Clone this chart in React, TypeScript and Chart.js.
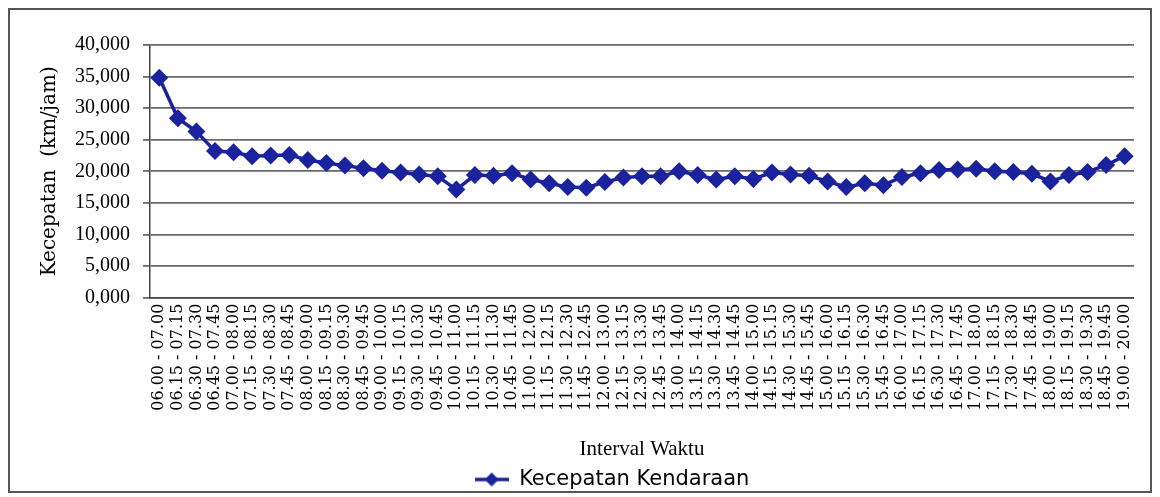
import React, { useEffect, useRef } from 'react';
import { Chart, registerables } from 'chart.js';

Chart.register(...registerables);

const intervalLabels: string[] = [
  '06.00 - 07.00', '06.15 - 07.15', '06.30 - 07.30', '06.45 - 07.45',
  '07.00 - 08.00', '07.15 - 08.15', '07.30 - 08.30', '07.45 - 08.45',
  '08.00 - 09.00', '08.15 - 09.15', '08.30 - 09.30', '08.45 - 09.45',
  '09.00 - 10.00', '09.15 - 10.15', '09.30 - 10.30', '09.45 - 10.45',
  '10.00 - 11.00', '10.15 - 11.15', '10.30 - 11.30', '10.45 - 11.45',
  '11.00 - 12.00', '11.15 - 12.15', '11.30 - 12.30', '11.45 - 12.45',
  '12.00 - 13.00', '12.15 - 13.15', '12.30 - 13.30', '12.45 - 13.45',
  '13.00 - 14.00', '13.15 - 14.15', '13.30 - 14.30', '13.45 - 14.45',
  '14.00 - 15.00', '14.15 - 15.15', '14.30 - 15.30', '14.45 - 15.45',
  '15.00 - 16.00', '15.15 - 16.15', '15.30 - 16.30', '15.45 - 16.45',
  '16.00 - 17.00', '16.15 - 17.15', '16.30 - 17.30', '16.45 - 17.45',
  '17.00 - 18.00', '17.15 - 18.15', '17.30 - 18.30', '17.45 - 18.45',
  '18.00 - 19.00', '18.15 - 19.15', '18.30 - 19.30', '18.45 - 19.45',
  '19.00 - 20.00',
];

// Kecepatan (km/jam)
const speeds: number[] = [
  34.8, 28.4, 26.3, 23.2, 23.0, 22.4, 22.5, 22.6, 21.8, 21.3,
  20.9, 20.5, 20.1, 19.8, 19.5, 19.2, 17.1, 19.4, 19.3, 19.7,
  18.7, 18.1, 17.5, 17.4, 18.3, 19.0, 19.2, 19.2, 20.0, 19.4,
  18.7, 19.2, 18.8, 19.8, 19.5, 19.3, 18.4, 17.5, 18.1, 17.8,
  19.1, 19.7, 20.2, 20.3, 20.4, 20.0, 19.9, 19.6, 18.4, 19.4,
  19.9, 21.0, 22.4,
];

const yMin = 0;
const yMax = 40;
const yStep = 5;

const seriesName = 'Kecepatan Kendaraan';
const xTitle = 'Interval Waktu';
const yTitle = 'Kecepatan  (km/jam)';

const lineColor = '#1a229e';

function makeLegendIcon(): HTMLCanvasElement {
  const c = document.createElement('canvas');
  c.width = 34;
  c.height = 16;
  const ctx = c.getContext('2d')!;
  ctx.strokeStyle = lineColor;
  ctx.lineWidth = 3.5;
  ctx.beginPath();
  ctx.moveTo(0, 8);
  ctx.lineTo(34, 8);
  ctx.stroke();
  ctx.fillStyle = lineColor;
  ctx.beginPath();
  ctx.moveTo(17, 1);
  ctx.lineTo(24, 8);
  ctx.lineTo(17, 15);
  ctx.lineTo(10, 8);
  ctx.closePath();
  ctx.fill();
  return c;
}

// nudges the bottom legend to where it sits in the original figure
const legendShift = {
  id: 'legendShift',
  afterLayout(chart: any) {
    const lg = chart.legend;
    if (lg) {
      lg.left -= 30;
      lg.right -= 30;
      lg.top += 9;
      lg.bottom += 9;
    }
  },
};

export default function App() {
  const canvasRef = useRef<HTMLCanvasElement | null>(null);

  useEffect(() => {
    if (!canvasRef.current) return;
    const icon = makeLegendIcon();
    const chart = new Chart(canvasRef.current, {
      type: 'line',
      data: {
        labels: intervalLabels,
        datasets: [
          {
            label: seriesName,
            data: speeds,
            borderColor: lineColor,
            backgroundColor: lineColor,
            borderWidth: 3.5,
            pointStyle: 'rectRot',
            pointRadius: 9,
            pointBorderWidth: 0,
            pointBackgroundColor: lineColor,
            tension: 0,
          },
        ],
      },
      plugins: [legendShift],
      options: {
        responsive: true,
        maintainAspectRatio: false,
        animation: false,
        layout: { padding: { top: 35, right: 0, left: 28, bottom: 0 } },
        plugins: {
          legend: {
            position: 'bottom',
            fullSize: false,
            labels: {
              usePointStyle: true,
              pointStyle: icon as any,
              pointStyleWidth: 34,
              boxHeight: 16,
              padding: 2,
              color: '#000',
              font: { family: 'DejaVu Sans', size: 21 },
            },
          },
          tooltip: { enabled: false },
        },
        scales: {
          x: {
            type: 'category',
            offset: true,
            grid: { display: false, drawTicks: false },
            border: { display: true, color: '#444', width: 1.5 },
            ticks: {
              autoSkip: false,
              minRotation: 90,
              maxRotation: 90,
              padding: 6,
              color: '#000',
              font: { family: 'DejaVu Serif', size: 16 },
            },
            title: {
              display: true,
              text: xTitle,
              color: '#000',
              font: { family: 'Liberation Serif', size: 21 },
              padding: { top: 20, bottom: -4 },
            },
          },
          y: {
            min: yMin,
            max: yMax,
            ticks: {
              stepSize: yStep,
              padding: 13,
              color: '#000',
              font: { family: 'Liberation Serif', size: 20 },
              callback: (v: any) => Number(v).toFixed(3).replace('.', ','),
            },
            grid: { color: '#6a6a6a', lineWidth: 1.8, tickLength: 7 },
            border: { color: '#444', width: 1.5 },
            title: {
              display: true,
              text: yTitle,
              color: '#000',
              font: { family: 'DejaVu Serif', size: 20 },
              padding: { top: 0, bottom: 0 },
            },
          },
        },
      },
    });
    return () => chart.destroy();
  }, []);

  return (
    <div
      style={{
        width: 1144,
        height: 485,
        border: '2px solid #555',
        boxSizing: 'border-box',
        background: '#fff',
      }}
    >
      <div style={{ position: 'relative', width: '100%', height: '100%' }}>
        <canvas ref={canvasRef} />
      </div>
    </div>
  );
}
